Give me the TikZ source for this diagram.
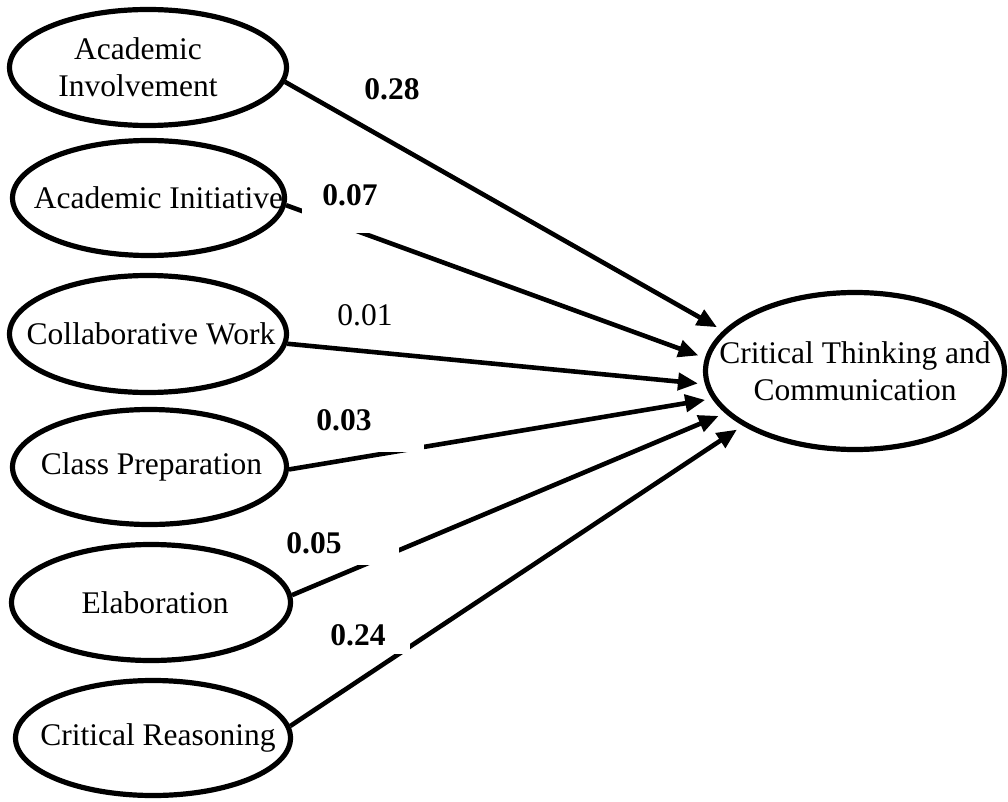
\documentclass[tikz,border=0pt]{standalone}
\usepackage{fontspec}
\setmainfont{Liberation Serif}
\usetikzlibrary{shapes.geometric,arrows.meta}
\pgfdeclarelayer{background}
\pgfsetlayers{background,main}
\begin{document}
\begin{tikzpicture}[x=1pt,y=-1pt,
  ell/.style={draw=black, line width=5.2pt, ellipse, inner sep=-120pt, align=center,
    font=\fontsize{31.5}{37}\selectfont},
  arrowline/.style={line width=4.6pt, shorten >=7pt, -{Triangle[length=20pt,width=17pt]}},
  coef/.style={fill=white, inner sep=0pt, font=\fontsize{31.5}{37}\selectfont\bfseries},
  coefplain/.style={fill=white, inner sep=0pt, font=\fontsize{31.5}{37}\selectfont}
]
\useasboundingbox (0,0) rectangle (1008,802);

\node[ell, minimum width=277pt, minimum height=116pt] (e1) at (148,67.5) {Academic\hspace*{20pt}\\Involvement\hspace*{20pt}};
\node[ell, minimum width=272pt, minimum height=115pt] (e2) at (148.5,198) {\hspace*{20pt}Academic Initiative};
\node[ell, minimum width=277pt, minimum height=117pt] (e3) at (148,334) {\hspace*{6pt}Collaborative Work};
\node[ell, minimum width=274pt, minimum height=115pt] (e4) at (149.5,467) {\hspace*{4pt}Class Preparation};
\node[ell, minimum width=279pt, minimum height=116pt] (e5) at (151,602.5) {\hspace*{8pt}Elaboration};
\node[ell, minimum width=275pt, minimum height=115pt] (e6) at (153,738) {\hspace*{10pt}Critical Reasoning};
\node[ell, minimum width=299pt, minimum height=157pt] (t) at (855,371) {Critical Thinking and\\Communication};

\begin{pgfonlayer}{background}
\draw[arrowline] (e1.-6) -- (t.163.7);
\draw[arrowline] (e2.-3) -- (t.175.3);
\draw[arrowline] (e3.-4) -- (t.-175.9);
\draw[arrowline] (e4.-1) -- (t.-169.8);
\draw[arrowline] (e5.3) -- (t.-162.3);
\draw[arrowline] (e6.5) -- (t.-154.2);

\node[coef] (c28) at (392,89) {0.28};
\node[coef, minimum width=96pt, minimum height=76pt] (c07) at (350,195) {0.07};
\node[coefplain] (c01) at (365,315) {0.01};
\node[coef, minimum width=160pt, minimum height=64pt] (c03) at (344,420) {0.03};
\node[coef, minimum width=170pt, minimum height=44pt] (c05) at (314,543) {0.05};
\node[coef, minimum width=104pt, minimum height=38pt] (c24) at (358,635) {0.24};
\end{pgfonlayer}
\end{tikzpicture}
\end{document}
